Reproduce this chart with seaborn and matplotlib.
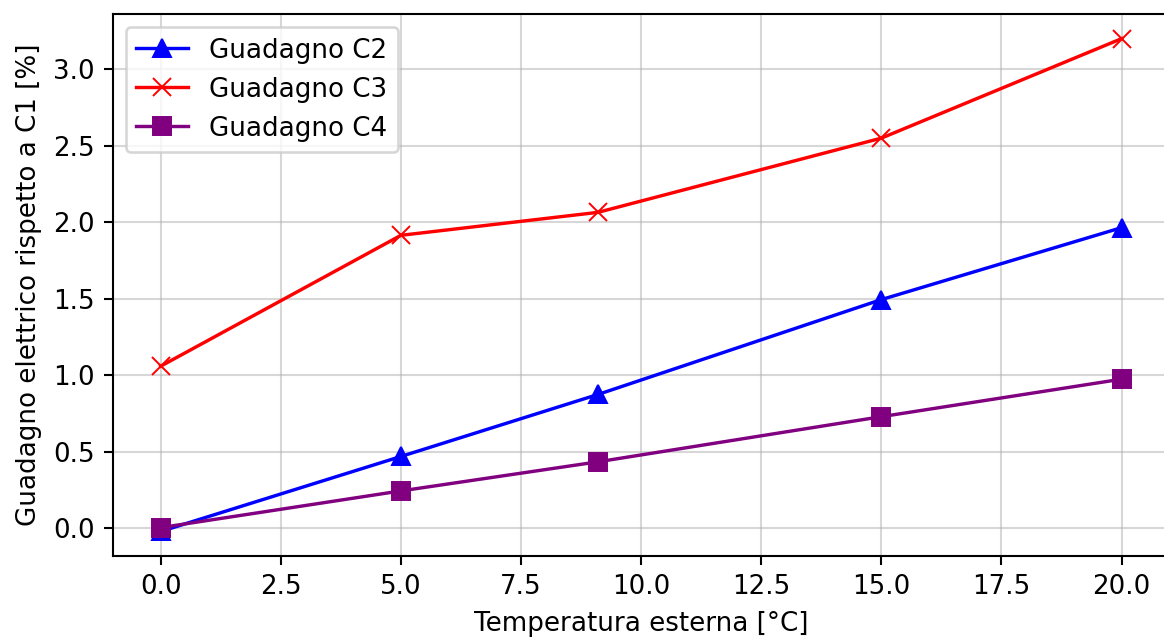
import matplotlib
matplotlib.use("Agg")
import matplotlib.pyplot as plt
import seaborn as sns
import pandas as pd

temperature = [0, 5, 9.1, 15, 20]
gain_c2 = [-0.02, 0.47, 0.875, 1.495, 1.965]
gain_c3 = [1.06, 1.915, 2.065, 2.55, 3.2]
gain_c4 = [0.005, 0.245, 0.435, 0.73, 0.975]

series = [
    ("Guadagno C2", gain_c2, "blue", "^"),
    ("Guadagno C3", gain_c3, "red", "x"),
    ("Guadagno C4", gain_c4, "purple", "s"),
]

DPI = 188
fig = plt.figure(figsize=(1164 / DPI, 637 / DPI), dpi=DPI)
# the original is cropped on the right, so the axes run past the edge a bit
ax = fig.add_axes([0.0968, 0.127, 0.908, 0.851])

for label, vals, col, mk in series:
    df = pd.DataFrame({"T": temperature, "g": vals})
    sns.lineplot(data=df, x="T", y="g", ax=ax, color=col, marker=mk,
                 markersize=7, markeredgecolor=col, linewidth=1.3, label=label)

ax.set_xticks([0, 2.5, 5, 7.5, 10, 12.5, 15, 17.5, 20])
ax.set_xlabel("Temperatura esterna [°C]")
ax.set_ylabel("Guadagno elettrico rispetto a C1 [%]")
ax.grid(True, alpha=0.5)
ax.legend(loc="upper left")

fig.savefig("out.png", dpi=DPI)
